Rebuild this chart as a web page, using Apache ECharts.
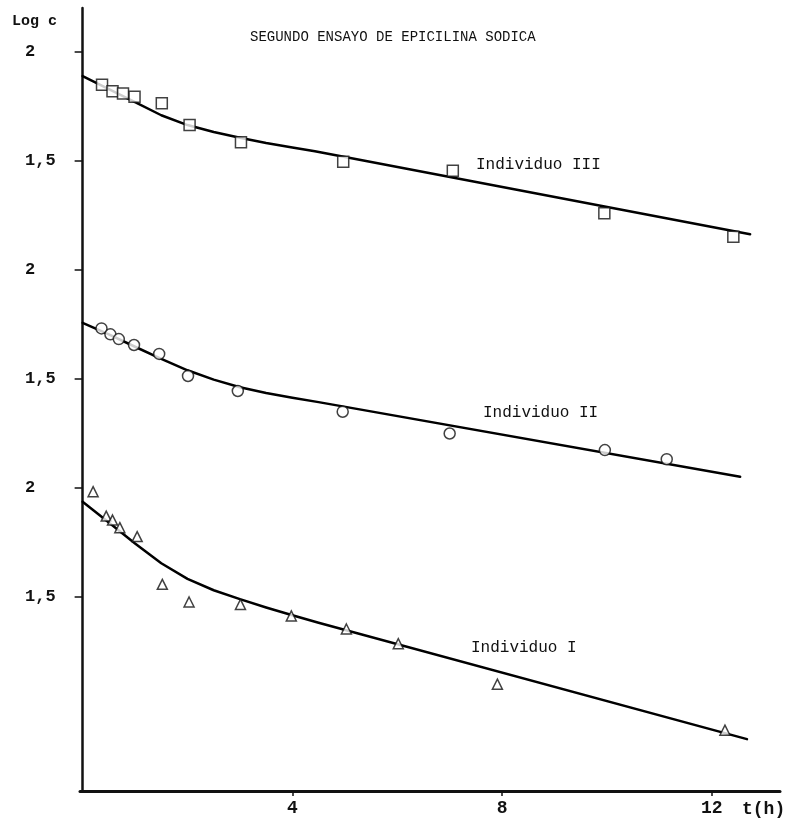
<!DOCTYPE html>
<html><head><meta charset="utf-8">
<script src="https://cdn.jsdelivr.net/npm/echarts@6/dist/echarts.min.js"></script>
<style>html,body{margin:0;padding:0;background:#fff}#c{width:790px;height:823px}</style>
</head><body><div id="c"></div>
<script>
// ---- data ----
const chartTitle = 'SEGUNDO ENSAYO DE EPICILINA SODICA';
const yAxisName = 'Log c';
const xAxisName = 't(h)';
const xTickValues = [4, 8, 12];
// y ticks expressed in the top panel's units; each lower panel is shifted by 1 log unit
const yTickValues = [2, 1.5, 1, 0.5, 0, -0.5];
const yTickLabels = ['2', '1,5', '2', '1,5', '2', '1,5'];
const seriesNames = ['Individuo III', 'Individuo II', 'Individuo I'];
const panelShift = [0, 1, 2];

// Individuo III (squares)
const pointsIII = [[0.37,1.85],[0.57,1.82],[0.77,1.81],[0.99,1.795],[1.51,1.765],[2.04,1.665],[3.02,1.586],[4.97,1.497],[7.06,1.455],[9.95,1.26],[12.41,1.153]];
const curveIII = [[0,1.89],[0.5,1.83],[1.0,1.77],[1.5,1.71],[2.0,1.665],[2.5,1.633],[3.0,1.607],[3.5,1.583],[4.0,1.562],[4.43,1.545],[12.73,1.164]];
// Individuo II (circles)
const pointsII = [[0.36,1.732],[0.53,1.705],[0.69,1.683],[0.98,1.656],[1.46,1.615],[2.01,1.514],[2.96,1.445],[4.96,1.35],[7.0,1.25],[9.96,1.174],[11.14,1.132]];
const curveII = [[0,1.758],[0.5,1.705],[1.0,1.648],[1.5,1.592],[2.0,1.54],[2.5,1.497],[3.0,1.462],[3.5,1.436],[4.0,1.414],[4.5,1.394],[12.54,1.052]];
// Individuo I (triangles)
const pointsI = [[0.2,1.983],[0.45,1.871],[0.57,1.853],[0.71,1.818],[1.04,1.777],[1.52,1.558],[2.03,1.477],[3.01,1.466],[3.98,1.413],[5.03,1.353],[6.02,1.286],[7.91,1.10],[12.25,0.889]];
const curveI = [[0,1.937],[0.5,1.842],[1.0,1.745],[1.5,1.655],[2.0,1.583],[2.5,1.531],[3.0,1.49],[3.5,1.452],[4.0,1.416],[4.5,1.382],[12.67,0.848]];

// ---- chart ----
const FONT = '"Liberation Mono", "DejaVu Sans Mono", monospace';
const INK = '#111';
const baseMin = -1.39, baseMax = 2.202;

function yAx(i) {
  const visible = i === 0;
  return {
    type: 'value', gridIndex: 0,
    min: baseMin + panelShift[i], max: baseMax + panelShift[i],
    show: visible,
    position: 'left',
    axisLine: { show: visible, lineStyle: { color: INK, width: 2.5 } },
    axisTick: { show: visible, customValues: yTickValues, inside: false, length: 8, lineStyle: { color: INK, width: 1.5 } },
    axisLabel: {
      show: visible, customValues: yTickValues, margin: 55, align: 'left',
      color: INK, fontFamily: FONT, fontSize: 17, fontWeight: 'bold',
      formatter: v => { const k = yTickValues.findIndex(t => Math.abs(t - v) < 1e-6); return k >= 0 ? yTickLabels[k] : ''; }
    },
    splitLine: { show: false }
  };
}

const markers = ['rect', 'circle', 'triangle'];
const sizes = [11, 11, 10];
const pts = [pointsIII, pointsII, pointsI];
const crv = [curveIII, curveII, curveI];
const series = [];
for (let i = 0; i < 3; i++) {
  series.push({
    name: seriesNames[i] + ' curve', type: 'line', yAxisIndex: i, data: crv[i],
    smooth: false, showSymbol: false, symbol: 'none',
    lineStyle: { color: '#000', width: 2.5, join: 'round', cap: 'round' }, z: 2, silent: true
  });
  series.push({
    name: seriesNames[i], type: 'scatter', yAxisIndex: i, data: pts[i],
    symbol: markers[i], symbolSize: sizes[i],
    itemStyle: { color: '#fff', borderColor: INK, borderWidth: 1.5 }, z: 3
  });
}

const chart = echarts.init(document.getElementById('c'), null, { renderer: 'canvas' });
chart.setOption({
  animation: false,
  backgroundColor: '#fff',
  grid: { left: 80, top: 8, width: 700, height: 783, containLabel: false },
  xAxis: {
    type: 'value', min: -0.05, max: 13.3,
    axisLine: { show: true, onZero: false, lineStyle: { color: INK, width: 3 } },
    axisTick: { customValues: xTickValues, inside: false, length: 5, lineStyle: { color: INK, width: 1.5 } },
    axisLabel: { customValues: xTickValues, margin: 8, color: INK, fontFamily: FONT, fontSize: 18, fontWeight: 'bold' },
    splitLine: { show: false }
  },
  yAxis: [yAx(0), yAx(1), yAx(2)],
  series: series,
  graphic: [
    { type: 'text', left: 250, top: 30, style: { text: chartTitle, font: '14px ' + FONT, fill: INK } },
    { type: 'text', left: 12, top: 14, style: { text: yAxisName, font: 'bold 15px ' + FONT, fill: INK } },
    { type: 'text', left: 742, top: 800, style: { text: xAxisName, font: 'bold 18px ' + FONT, fill: INK } },
    { type: 'text', left: 476, top: 157, style: { text: seriesNames[0], font: '16px ' + FONT, fill: INK } },
    { type: 'text', left: 483, top: 405, style: { text: seriesNames[1], font: '16px ' + FONT, fill: INK } },
    { type: 'text', left: 471, top: 640, style: { text: seriesNames[2], font: '16px ' + FONT, fill: INK } }
  ]
});
</script>
</body></html>
